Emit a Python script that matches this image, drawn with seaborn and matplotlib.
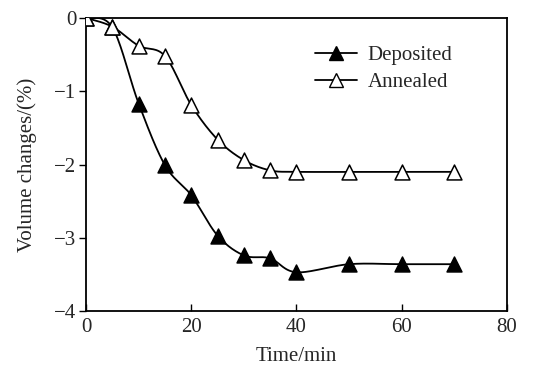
import numpy as np
import pandas as pd
import seaborn as sns
import matplotlib
matplotlib.use("Agg")
import matplotlib.pyplot as plt
from matplotlib.lines import Line2D

time = [0, 5, 10, 15, 20, 25, 30, 35, 40, 50, 60, 70]
deposited = [0, -0.13, -1.17, -2.01, -2.42, -2.97, -3.24, -3.28, -3.47, -3.36, -3.36, -3.36]
annealed = [0, -0.12, -0.38, -0.52, -1.19, -1.66, -1.94, -2.08, -2.10, -2.10, -2.10, -2.10]
series_names = ["Deposited", "Annealed"]

sns.set_theme(style="white")
plt.rcParams["font.family"] = ["Liberation Serif", "DejaVu Serif"]


def smooth(x, y, n=30):
    # Bezier smoothing through the points (like Excel smoothed lines)
    x = np.asarray(x, float)
    y = np.asarray(y, float)
    px, py = [], []
    for i in range(len(x) - 1):
        x0, y0 = (x[i - 1], y[i - 1]) if i > 0 else (x[i], y[i])
        x1, y1 = x[i], y[i]
        x2, y2 = x[i + 1], y[i + 1]
        x3, y3 = (x[i + 2], y[i + 2]) if i + 2 < len(x) else (x[i + 1], y[i + 1])
        c1x, c1y = x1 + (x2 - x0) / 6, y1 + (y2 - y0) / 6
        c2x, c2y = x2 - (x3 - x1) / 6, y2 - (y3 - y1) / 6
        t = np.linspace(0, 1, n)
        bx = (1 - t) ** 3 * x1 + 3 * (1 - t) ** 2 * t * c1x + 3 * (1 - t) * t ** 2 * c2x + t ** 3 * x2
        by = (1 - t) ** 3 * y1 + 3 * (1 - t) ** 2 * t * c1y + 3 * (1 - t) * t ** 2 * c2y + t ** 3 * y2
        px.extend(bx)
        py.extend(by)
    return np.array(px), np.array(py)


fig = plt.figure(figsize=(5.45, 3.66), dpi=100)
ax = fig.add_axes([0.158, 0.150, 0.772, 0.801])

df = pd.DataFrame({"time": time * 2,
                   "value": deposited + annealed,
                   "series": [series_names[0]] * len(time) + [series_names[1]] * len(time)})

for name, fc in zip(series_names, ["black", "white"]):
    sub = df[df.series == name]
    sx, sy = smooth(sub.time, sub.value)
    ax.plot(sx, sy, color="black", lw=1.3, zorder=2)
    sns.scatterplot(data=sub, x="time", y="value", ax=ax, marker="^", s=115,
                    facecolor=fc, edgecolor="black", linewidth=1.1, zorder=3, legend=False)

ax.set_xlim(0, 80)
ax.set_ylim(-4, 0)
ax.set_xticks([0, 20, 40, 60, 80])
ax.set_yticks([0, -1, -2, -3, -4])
ax.set_yticklabels(["0", "\u22121", "\u22122", "\u22123", "\u22124"])
ax.set_xlabel("Time/min", fontsize=15, labelpad=7)
ax.set_ylabel("Volume changes/(%)", fontsize=15, labelpad=12)
ax.tick_params(axis="x", direction="in", length=5, width=1, labelsize=15, pad=5, color="black")
ax.tick_params(axis="y", direction="out", length=5, width=1, labelsize=15, pad=2, color="black")
ax.tick_params(bottom=True, left=True)
for sp in ax.spines.values():
    sp.set_color("black")
    sp.set_linewidth(1.3)

handles = [Line2D([], [], color="black", lw=1.3, marker="^", markersize=10,
                  markerfacecolor=fc, markeredgecolor="black")
           for fc in ["black", "white"]]
ax.legend(handles, series_names, loc="upper left", bbox_to_anchor=(0.5, 0.97),
          frameon=False, fontsize=15, handlelength=2.0, handletextpad=0.5,
          labelspacing=0.35)

fig.savefig("out.png", dpi=100)
